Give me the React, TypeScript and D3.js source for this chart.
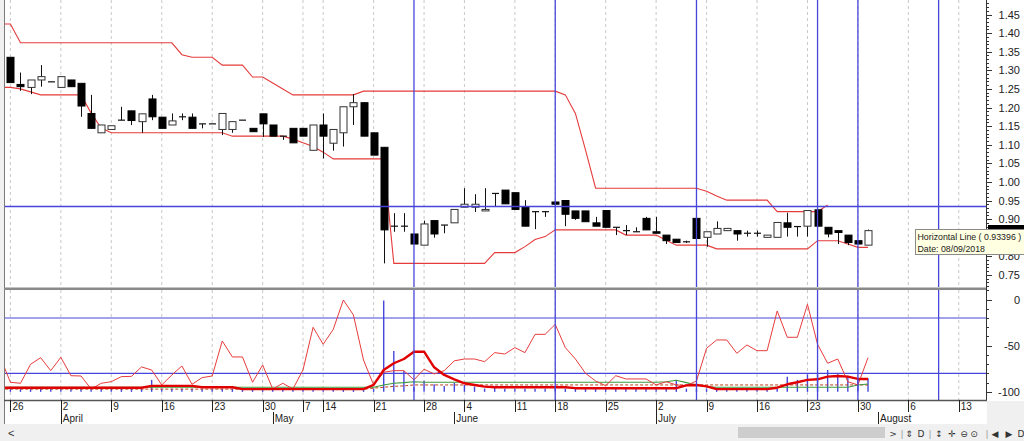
import React, { useEffect } from 'react';
import * as d3 from 'd3';

// ---------- DATA ----------
// Daily candles, trading-day index 0..85 (26 Mar 2018 .. 31 Jul 2018)
const openP = [
  1.335, 1.262, 1.254, 1.274, 1.269, 1.254, 1.274, 1.265, 1.184, 1.132,
  1.141, 1.166, 1.191, 1.162, 1.223, 1.174, 1.153, 1.175, 1.174, 1.156,
  1.156, 1.141, 1.141, 1.166, 1.144, 1.183, 1.153, 1.123, 1.144, 1.144,
  1.085, 1.153, 1.104, 1.132, 1.202, 1.213, 1.132, 1.093, 0.881, 0.881,
  0.860, 0.830, 0.896, 0.884, 0.890, 0.932, 0.932, 0.922, 0.969, 0.978,
  0.971, 0.933, 0.920, 0.920, 0.946, 0.950, 0.922, 0.922, 0.890, 0.923,
  0.878, 0.869, 0.866, 0.902, 0.866, 0.857, 0.846, 0.839, 0.902, 0.851,
  0.860, 0.869, 0.869, 0.862, 0.862, 0.851, 0.851, 0.890, 0.880, 0.881,
  0.925, 0.878, 0.869, 0.857, 0.842, 0.830,
];
const highP = [
  1.335, 1.294, 1.274, 1.314, 1.269, 1.283, 1.274, 1.265, 1.234, 1.153,
  1.151, 1.202, 1.191, 1.183, 1.234, 1.174, 1.184, 1.184, 1.184, 1.156,
  1.156, 1.184, 1.162, 1.166, 1.144, 1.183, 1.153, 1.123, 1.144, 1.144,
  1.153, 1.184, 1.141, 1.202, 1.236, 1.213, 1.132, 1.093, 0.916, 0.916,
  0.860, 0.896, 0.896, 0.884, 0.926, 0.983, 0.967, 0.983, 0.969, 0.978,
  0.971, 0.951, 0.920, 0.920, 0.946, 0.950, 0.922, 0.922, 0.906, 0.923,
  0.878, 0.884, 0.878, 0.906, 0.906, 0.857, 0.846, 0.842, 0.902, 0.866,
  0.894, 0.875, 0.869, 0.869, 0.869, 0.857, 0.891, 0.917, 0.880, 0.923,
  0.925, 0.878, 0.869, 0.857, 0.842, 0.872,
];
const lowP = [
  1.267, 1.245, 1.236, 1.256, 1.269, 1.254, 1.256, 1.175, 1.144, 1.132,
  1.141, 1.166, 1.153, 1.132, 1.166, 1.144, 1.153, 1.166, 1.144, 1.144,
  1.156, 1.126, 1.132, 1.166, 1.135, 1.121, 1.123, 1.113, 1.105, 1.123,
  1.085, 1.063, 1.084, 1.095, 1.153, 1.123, 1.072, 0.781, 0.866, 0.866,
  0.833, 0.830, 0.850, 0.862, 0.890, 0.932, 0.919, 0.922, 0.935, 0.941,
  0.926, 0.881, 0.873, 0.906, 0.940, 0.881, 0.898, 0.893, 0.881, 0.878,
  0.857, 0.857, 0.866, 0.871, 0.862, 0.833, 0.837, 0.836, 0.848, 0.826,
  0.860, 0.869, 0.842, 0.853, 0.853, 0.851, 0.851, 0.853, 0.853, 0.853,
  0.881, 0.851, 0.833, 0.830, 0.833, 0.830,
];
const closeP = [
  1.267, 1.256, 1.274, 1.283, 1.269, 1.283, 1.256, 1.204, 1.144, 1.153,
  1.151, 1.166, 1.165, 1.183, 1.175, 1.144, 1.164, 1.175, 1.144, 1.156,
  1.156, 1.184, 1.162, 1.166, 1.135, 1.156, 1.123, 1.123, 1.105, 1.123,
  1.153, 1.123, 1.141, 1.202, 1.213, 1.123, 1.072, 0.871, 0.881, 0.881,
  0.833, 0.887, 0.860, 0.884, 0.926, 0.940, 0.940, 0.926, 0.969, 0.941,
  0.926, 0.881, 0.920, 0.920, 0.940, 0.913, 0.902, 0.893, 0.881, 0.878,
  0.878, 0.869, 0.866, 0.871, 0.862, 0.842, 0.837, 0.839, 0.848, 0.866,
  0.875, 0.875, 0.860, 0.862, 0.862, 0.857, 0.891, 0.878, 0.880, 0.923,
  0.881, 0.860, 0.864, 0.837, 0.833, 0.869,
];

// Channel lines (start at index -1, the bar just off the left edge)
const channelStart = -1;
const upperBand = [
  1.4245, 1.4245,
  1.374, 1.374, 1.374, 1.374, 1.374, 1.374, 1.374, 1.374, 1.374, 1.374, 1.374, 1.374, 1.374, 1.374, 1.374, 1.374,
  1.342, 1.335, 1.335, 1.335, 1.314, 1.314, 1.314, 1.282, 1.282, 1.266, 1.250,
  1.234, 1.234, 1.234, 1.234, 1.234, 1.234, 1.234,
  1.244, 1.244, 1.244, 1.244, 1.244, 1.244, 1.244, 1.244, 1.244, 1.244,
  1.244, 1.244, 1.244, 1.244, 1.244, 1.244, 1.244, 1.244, 1.244, 1.244,
  1.234, 1.184, 1.086,
  0.983, 0.983, 0.983, 0.983, 0.983, 0.983, 0.983, 0.983, 0.983, 0.983, 0.983,
  0.975, 0.962, 0.951, 0.951, 0.951, 0.951, 0.951,
  0.920, 0.920, 0.920, 0.920, 0.920, 0.938,
];
const lowerBand = [
  1.254, 1.254, 1.250, 1.242, 1.234, 1.234, 1.234, 1.234, 1.234, 1.185, 1.145,
  1.132, 1.132, 1.132, 1.132, 1.132, 1.132, 1.132, 1.132, 1.132, 1.132, 1.132, 1.132,
  1.123, 1.123, 1.123, 1.123, 1.123, 1.123,
  1.115, 1.105, 1.095, 1.080,
  1.062, 1.062, 1.062, 1.062, 1.062, 1.062,
  0.781, 0.781, 0.781, 0.781, 0.781, 0.781, 0.781, 0.781, 0.781, 0.781,
  0.810, 0.810, 0.810, 0.826, 0.845, 0.853,
  0.871, 0.871, 0.871, 0.871, 0.871, 0.871, 0.871,
  0.857, 0.857, 0.857, 0.857, 0.843, 0.830, 0.830, 0.830, 0.830,
  0.820, 0.820, 0.820, 0.820, 0.820, 0.820, 0.820, 0.820, 0.820, 0.820,
  0.842, 0.842, 0.842, 0.833, 0.824, 0.824,
];

// Oscillator panel (index -1..85)
const oscStart = -1;
const wpr = [
  -62.6,
  -89.6, -90.7, -70.1, -63.0, -77.0, -62.6, -82.5, -82.8, -96.9, -90.7,
  -89.0, -83.5, -83.2, -73.0, -76.3, -92.5, -81.7, -72.0, -91.8, -84.6,
  -82.8, -44.9, -62.2, -62.2, -89.6, -70.9, -96.9, -90.7, -96.9, -76.3,
  -30.1, -48.5, -32.3, -0.5, -16.8, -65.5, -92.5, -78.8, -77.0, -77.0,
  -87.0, -75.5, -80.6, -77.0, -66.4, -64.4, -64.4, -67.3, -57.5, -59.0,
  -52.1, -57.5, -37.7, -37.7, -26.9, -52.1, -64.4, -79.9, -88.2, -93.3,
  -82.5, -86.0, -86.0, -86.0, -92.5, -89.0, -92.5, -93.3, -88.2, -52.8,
  -43.8, -43.8, -58.2, -49.2, -55.4, -55.4, -12.4, -40.9, -40.9, -5.2,
  -48.5, -69.0, -64.4, -89.0, -92.5, -63.0,
];
const wprSmooth = [
  -95.5, -95.5, -95.5, -95.5, -95.5, -95.5, -95.5, -95.5, -95.5, -95.5, -95.5, -95.5, -95.5, -95.5, -95.5,
  -93.5, -93.5, -93.5, -93.5, -93.5,
  -95, -95, -95, -95,
  -97, -97, -97, -97, -97, -97, -97, -97, -97, -97, -97, -97, -97,
  -92.5, -76.3, -69.0, -64.4, -56.5, -56.5, -73.4, -81.7, -86.4, -90.7, -92.5, -94.3,
  -95, -95, -95, -95, -95, -95, -95, -95,
  -96, -96, -96, -96, -96, -96, -96, -96, -96, -96, -96,
  -93, -92.5, -94,
  -97, -97, -97, -97, -97, -97,
  -95.5, -91.8, -89.6, -87.0, -86.4, -83.5, -82.8, -83.5, -86.0, -86.0,
];
const signalLine = [
  -95, -95, -95, -95, -95, -95, -95, -95, -95, -95, -95, -95, -95, -95, -95, -95, -95, -95, -95,
  -95, -95, -95, -95, -95, -95, -95, -95, -95, -95, -95, -95, -95, -95, -95, -95, -95, -95, -95,
  -92.5, -90.7, -90.0, -89.0,
  -89.5, -89.5, -89.5, -89.5, -89.5, -89.5, -89.5, -89.5, -89.5, -89.5, -89.5, -89.5,
  -89.5, -89.5, -89.5, -89.5, -89.5, -89.5, -89.5, -89.5, -89.5, -89.5, -89.5, -89.5,
  -89.0, -87.5, -90.0, -92.5, -94.3,
  -95, -95, -95, -95, -95, -95, -95, -95, -95, -95, -95, -95, -95, -95,
  -92.5, -91.5,
];
const dashedLine = [
  -97, -97, -97, -97, -97, -97, -97, -97, -97, -97, -97, -97, -97, -97, -97, -97, -97, -97, -97,
  -97, -97, -97, -97, -97, -97, -97, -97, -97, -97, -97, -97, -97, -97, -97, -97, -97, -97,
  -96, -95, -94, -93.5,
  -92.5, -92.5, -92.5, -92.5, -92.5, -92.5, -92.5, -92.5, -92.5, -92.5, -92.5, -92.5,
  -92.5, -92.5, -92.5, -92.5, -92.5, -92.5, -92.5, -92.5, -92.5, -92.5, -92.5, -92.5,
  -92.5, -92.5, -92.5, -92.5, -92.5, -92.5, -92.5, -92.5, -92.5, -92.5, -92.5, -92.5,
  -92.5, -92.5, -92.5, -92.5, -92.5, -92.5, -92.5, -92.5, -92.5, -92.5,
];
// Blue histogram (index 0..85), bar tops; bars rise from the base level
const histBase = -100;
const histTop = [
  -96.5, -96.5, -96.5, -96.5, -96.5, -96.5, -96.5, -96.5, -96.5, -96.5, -96.5, -96.5, -96.5, -96.5,
  -87,
  -96.5, -96.5, -96.5, -96.5, -96.5, -96.5, -96.5, -96.5, -96.5, -96.5, -96.5, -96.5, -96.5, -96.5, -96.5, -96.5, -96.5, -96.5, -96.5, -96.5, -96.5, -96.5,
  -1, -55.7, -77.4, -95, -88, -91.8, -93.6, -90, -92.5, -94.3, -96.5, -94.3,
  -96.5, -96.5, -96.5, -96.5, -96.5, -96.5, -96.5, -96.5, -96.5, -96.5, -96.5, -96.5, -96.5, -96.5, -96.5, -96.5, -96.5,
  -87,
  -96.5, -96.5, -96.5, -96.5, -96.5, -96.5, -96.5, -96.5, -96.5, -96.5,
  -83.5, -87, -81, -81, -76.3, -81, -82.5, -85, -85.3,
];

// Axis labels
const weekLabels = ['26', '2', '9', '16', '23', '30', '7', '14', '21', '28', '4', '11', '18', '25', '2', '9', '16', '23', '30', '6', '13'];
const weekIdx = [0, 5, 10, 15, 20, 25, 29, 31, 36, 41, 45, 50, 54, 59, 64, 69, 74, 79, 84, 89, 94];
const monthLabels = ['April', 'May', 'June', 'July', 'August'];
const monthIdx = [5, 26, 44, 64, 86];
// 0.85 sits under the tooltip in the reference, so only its tick is drawn
const priceTicks = [0.75, 0.8, 0.9, 0.95, 1.0, 1.05, 1.1, 1.15, 1.2, 1.25, 1.3, 1.35, 1.4, 1.45];
const oscTicks = [0, -50, -100];

// Drawing objects
const vLineIdx = [40, 54, 68, 80, 84, 92];
const hLinePrice = 0.93396;
const oscLevels = [-20, -80];
const tooltipLines = ['Horizontal Line ( 0.93396 )', 'Date: 08/09/2018'];
const lastPriceLabel = '0.869';

// ---------- LAYOUT ----------
const W = 1024;
const H = 441;
const L = 5;
const R = 986;
const P_TOP = 0;
const P_BOT = 287;
const O_TOP = 290;
const O_BOT = 400;
const FONT = "'Liberation Sans', Arial, sans-serif";

export default function App() {
  useEffect(() => {
    document.body.style.margin = '0';
  }, []);

  const x = d3.scaleLinear().domain([0, 85]).range([10.4, 868]);
  const yP = d3.scaleLinear().domain([0.7175, 1.489]).range([P_BOT, P_TOP]);
  const yO = d3.scaleLinear().domain([-108.8, 10.3]).range([O_BOT, O_TOP]);

  const lineP = (arr: number[], start: number) =>
    d3.line<number>().x((_, i) => x(i + start)).y((d) => yP(d))(arr) || '';
  const lineO = (arr: number[], start: number) =>
    d3.line<number>().x((_, i) => x(i + start)).y((d) => yO(d))(arr) || '';

  const bw = 7;
  const minorP = d3.range(72, 149).map((v) => v / 100);
  const majorP = d3.range(75, 146, 5).map((v) => v / 100);
  const minorO = d3.range(-100, 11, 10);

  const blue = '#4646dc';
  const lastY = yP(closeP[closeP.length - 1]);

  return (
    <svg
      width={W}
      height={H}
      style={{ position: 'absolute', left: 0, top: 0, display: 'block' }}
      fontFamily={FONT}
    >
      <defs>
        <clipPath id="clipP">
          <rect x={L} y={P_TOP} width={R - L} height={P_BOT - P_TOP} />
        </clipPath>
        <clipPath id="clipO">
          <rect x={L} y={O_TOP} width={R - L} height={O_BOT - O_TOP} />
        </clipPath>
        <clipPath id="clipMarker">
          <rect x={987} y={220} width={40} height={9.5} />
        </clipPath>
      </defs>

      {/* background */}
      <rect x={0} y={0} width={W} height={H} fill="#ffffff" />
      <rect x={0} y={0} width={L - 1} height={425} fill="#f0f0f0" />
      <rect x={0} y={424} width={W} height={H - 424} fill="#f0f0f0" />

      {/* ===== PRICE PANEL ===== */}
      <g clipPath="url(#clipP)">
        {weekIdx.map((d, i) => (
          <line key={'gp' + i} x1={x(d)} x2={x(d)} y1={P_TOP} y2={P_BOT} stroke="#c8c8c8" strokeDasharray="3,3" />
        ))}
        <path d={lineP(upperBand, channelStart)} fill="none" stroke="#e53b3b" strokeWidth={1.1} />
        <path d={lineP(lowerBand, channelStart)} fill="none" stroke="#e53b3b" strokeWidth={1.1} />
        {openP.map((o, i) => {
          const c = closeP[i];
          const cx = Math.round(x(i)) + 0.5;
          const top = yP(Math.max(o, c));
          const bot = yP(Math.min(o, c));
          const down = c < o;
          const doji = Math.abs(bot - top) < 1;
          return (
            <g key={'c' + i}>
              <line x1={cx} x2={cx} y1={yP(highP[i])} y2={yP(lowP[i])} stroke="#111" strokeWidth={1} />
              {doji ? (
                <line x1={cx - bw / 2} x2={cx + bw / 2} y1={top} y2={top} stroke="#111" strokeWidth={1.2} />
              ) : (
                <rect
                  x={cx - bw / 2}
                  y={top}
                  width={bw}
                  height={bot - top}
                  fill={down ? '#000' : '#fff'}
                  stroke={down ? '#000' : '#333'}
                  strokeWidth={1}
                />
              )}
            </g>
          );
        })}
        <line x1={L} x2={R} y1={yP(hLinePrice)} y2={yP(hLinePrice)} stroke={blue} strokeWidth={1.3} />
        {vLineIdx.map((d, i) => (
          <line key={'vp' + i} x1={x(d)} x2={x(d)} y1={P_TOP} y2={P_BOT} stroke={blue} strokeWidth={1.3} />
        ))}
      </g>

      {/* ===== OSCILLATOR PANEL ===== */}
      <g clipPath="url(#clipO)">
        {weekIdx.map((d, i) => (
          <line key={'go' + i} x1={x(d)} x2={x(d)} y1={O_TOP} y2={O_BOT} stroke="#c8c8c8" strokeDasharray="3,3" />
        ))}
        {oscLevels.map((v, i) => (
          <line key={'lv' + i} x1={L} x2={R} y1={yO(v)} y2={yO(v)} stroke={blue} strokeWidth={1.2} />
        ))}
        {histTop.map((v, i) => (
          <line key={'h' + i} x1={x(i)} x2={x(i)} y1={yO(histBase)} y2={yO(v)} stroke={blue} strokeWidth={1.4} />
        ))}
        <path d={lineO(dashedLine, oscStart)} fill="none" stroke="#b8401c" strokeWidth={1} strokeDasharray="3,2" />
        <path d={lineO(signalLine, oscStart)} fill="none" stroke="#3c9a3c" strokeWidth={1.1} />
        <path d={lineO(wpr, oscStart)} fill="none" stroke="#e83c3c" strokeWidth={1} />
        <path d={lineO(wprSmooth, oscStart)} fill="none" stroke="#e00000" strokeWidth={2.4} strokeLinejoin="round" />
        {vLineIdx.map((d, i) => (
          <line key={'vo' + i} x1={x(d)} x2={x(d)} y1={O_TOP} y2={O_BOT} stroke={blue} strokeWidth={1.3} />
        ))}
      </g>

      {/* panel frames */}
      <line x1={L - 0.5} x2={L - 0.5} y1={0} y2={424} stroke="#7a7a7a" strokeWidth={1} />
      <rect x={L - 1} y={P_BOT + 0.5} width={R - L + 2} height={2.5} fill="#8a8a8a" />
      <line x1={R + 0.5} x2={R + 0.5} y1={P_TOP} y2={O_BOT} stroke="#333" strokeWidth={1} />
      <line x1={L - 1} x2={R + 1} y1={O_BOT + 0.5} y2={O_BOT + 0.5} stroke="#555" strokeWidth={1.5} />

      {/* price axis */}
      {minorP.map((v, i) => (
        <line key={'mp' + i} x1={R + 1} x2={R + 3} y1={Math.round(yP(v)) + 0.5} y2={Math.round(yP(v)) + 0.5} stroke="#333" />
      ))}
      {majorP.map((v, i) => (
        <line key={'Mp' + i} x1={R + 1} x2={R + 6} y1={Math.round(yP(v)) + 0.5} y2={Math.round(yP(v)) + 0.5} stroke="#333" />
      ))}
      {priceTicks.map((v, i) => (
        <text key={'tp' + i} x={1020} y={yP(v) + 4} fontSize={11} textAnchor="end" fill="#222">
          {v.toFixed(2)}
        </text>
      ))}

      {/* oscillator axis */}
      {minorO.map((v, i) => (
        <line key={'mo' + i} x1={R + 1} x2={R + 3} y1={Math.round(yO(v)) + 0.5} y2={Math.round(yO(v)) + 0.5} stroke="#333" />
      ))}
      {oscTicks.map((v, i) => (
        <g key={'to' + i}>
          <line x1={R + 1} x2={R + 6} y1={Math.round(yO(v)) + 0.5} y2={Math.round(yO(v)) + 0.5} stroke="#333" />
          <text x={1020} y={yO(v) + 4} fontSize={11} textAnchor="end" fill="#222">
            {v}
          </text>
        </g>
      ))}

      {/* date axis */}
      {weekIdx.map((d, i) => (
        <g key={'wd' + i}>
          <line x1={Math.round(x(d)) + 0.5} x2={Math.round(x(d)) + 0.5} y1={O_BOT} y2={412} stroke="#222" />
          <text x={x(d) + 2} y={410} fontSize={10} fill="#222">
            {weekLabels[i]}
          </text>
        </g>
      ))}
      {monthIdx.map((d, i) => (
        <g key={'md' + i}>
          <line x1={Math.round(x(d)) + 0.5} x2={Math.round(x(d)) + 0.5} y1={412} y2={424} stroke="#222" />
          <text x={x(d) + 2} y={422} fontSize={10} fill="#222">
            {monthLabels[i]}
          </text>
        </g>
      ))}
      <rect x={R + 1} y={O_BOT + 1} width={W - R} height={24} fill="#f0f0f0" />

      {/* last price marker (mostly hidden by the tooltip) */}
      <rect x={988} y={225} width={36} height={14} fill="#000" />
      <g clipPath="url(#clipMarker)">
        <text x={992} y={lastY + 6} fontSize={11} fill="#00e000">
          {lastPriceLabel}
        </text>
      </g>

      {/* tooltip */}
      <rect x={915.5} y={229.5} width={110} height={25} fill="#ffffe1" stroke="#8a8a8a" />
      <text x={917.5} y={239.5} fontSize={8.8} fill="#222">
        {tooltipLines[0]}
      </text>
      <text x={917.5} y={251.5} fontSize={8.8} fill="#222">
        {tooltipLines[1]}
      </text>

      {/* scrollbar & toolbar */}
      <text x={8} y={437} fontSize={11} fill="#333">{'<'}</text>
      <rect x={738} y={427} width={147} height={11} fill="#cdcdcd" />
      <g fontFamily="'DejaVu Sans', sans-serif" fontSize={9} fill="#333" textAnchor="middle">
        <text x={893} y={437}>{'>'}</text>
        <text x={902} y={437} fill="#999">|</text>
        <text x={909} y={437}>{'⇕'}</text>
        <text x={921} y={437}>D</text>
        <text x={930} y={437} fill="#999">|</text>
        <text x={939} y={437}>{'↕'}</text>
        <text x={952} y={437}>{'✛'}</text>
        <text x={964} y={437}>{'⊖'}</text>
        <text x={974} y={437}>{'⊙'}</text>
        <text x={987} y={437} fill="#999">|</text>
        <text x={995} y={437}>{'◀'}</text>
        <text x={1009} y={437}>{'▶'}</text>
        <text x={1021} y={437}>D</text>
      </g>
    </svg>
  );
}
